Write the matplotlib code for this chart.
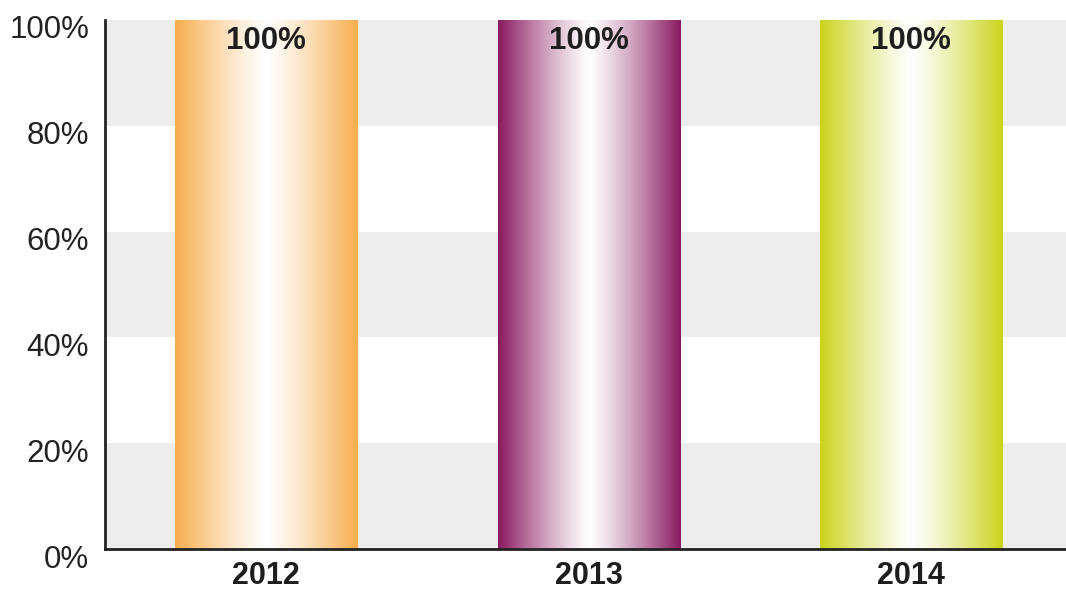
import numpy as np
import matplotlib
matplotlib.use("Agg")
import matplotlib.pyplot as plt
from matplotlib.colors import to_rgb
import matplotlib.transforms as mtransforms

categories = ["2012", "2013", "2014"]
values = [100, 100, 100]
labels = ["100%", "100%", "100%"]
colors = ["#F7AE4E", "#8A1A60", "#CBD31C"]
yticks = [0, 20, 40, 60, 80, 100]
ytick_labels = ["0%", "20%", "40%", "60%", "80%", "100%"]

fig = plt.figure(figsize=(10.66, 5.91), dpi=100)
ax = fig.add_axes([105 / 1066, 42 / 591, 961 / 1066, 529 / 591])

ax.set_xlim(-0.5, 2.48)
ax.set_ylim(0, 100)

# alternating bands
for i in range(0, 5):
    if i % 2 == 0:
        ax.axhspan(i * 20, i * 20 + 20, color="#EDEDED", zorder=0, lw=0)

x = np.arange(len(categories))
width = 0.565
bars = ax.bar(x, values, width=width, color="none", zorder=2)

n = 256
t = np.linspace(0, 1, n)
prof = np.abs(t - 0.5) * 2  # 1 at edges, 0 at center
prof = prof ** 1.2
for bar, c in zip(bars, colors):
    rgb = np.array(to_rgb(c))
    img = 1 - prof[:, None] * (1 - rgb[None, :])
    img = img[None, :, :]
    x0, y0 = bar.get_x(), bar.get_y()
    w, h = bar.get_width(), bar.get_height()
    ax.imshow(img, extent=[x0, x0 + w, y0, y0 + h], aspect="auto",
              zorder=2, interpolation="bilinear")

ax.set_xlim(-0.5, 2.48)
ax.set_ylim(0, 100)

for xi, v, lab in zip(x, values, labels):
    ax.text(xi, v - 4, lab, ha="center", va="center", fontsize=22.5,
            fontweight="bold", color="#1E1E1E", family="Liberation Sans", zorder=3)

# y tick labels, drawn slightly below their ticks as in the reference
ax.set_yticks(yticks)
ax.set_yticklabels([])
ylab_tr = ax.get_yaxis_transform() + mtransforms.ScaledTranslation(
    -16 / 100, -7 / 100, fig.dpi_scale_trans)
for yv, yl in zip(yticks, ytick_labels):
    ax.text(0, yv, yl, transform=ylab_tr, ha="right", va="center_baseline",
            fontsize=22.5, color="#222222", family="Liberation Sans", clip_on=False)

ax.set_xticks(x)
ax.set_xticklabels(categories, fontsize=22, fontweight="bold", color="#1E1E1E",
                   family="Liberation Sans")
ax.tick_params(axis="y", length=0, pad=16)
ax.tick_params(axis="x", length=0, pad=9)

for s in ["top", "right"]:
    ax.spines[s].set_visible(False)
for s in ["left", "bottom"]:
    ax.spines[s].set_color("#222222")
    ax.spines[s].set_linewidth(2)
    ax.spines[s].set_zorder(4)

fig.savefig("out.png", dpi=100)
